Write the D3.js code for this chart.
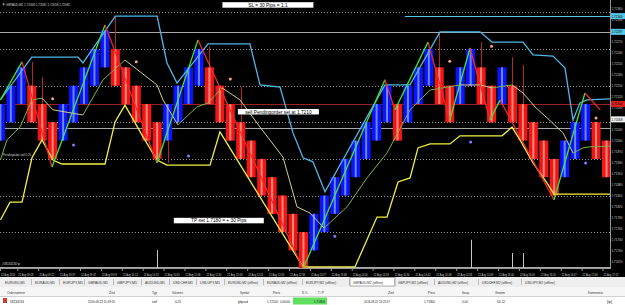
<!DOCTYPE html>
<html>
<head>
<meta charset="utf-8">
<script src="https://cdn.jsdelivr.net/npm/d3@7"></script>
<style>
  body { margin: 0; background: #000; }
  svg { display: block; font-family: "Liberation Sans", Arial, sans-serif; }
</style>
</head>
<body>
<div id="chart"></div>
<script>
// Renko bars (open / close), one box = 5 pips
const opens  = [1.7200,1.7205,1.7210,1.7215,1.7210,1.7205,1.7200,1.7205,1.7210,1.7215,
                1.7220,1.7225,1.7220,1.7215,1.7210,1.7205,1.7200,1.7205,1.7210,1.7215,
                1.7220,1.7215,1.7210,1.7205,1.7200,1.7195,1.7190,1.7185,1.7180,1.7175,
                1.7170,1.7175,1.7180,1.7185,1.7190,1.7195,1.7200,1.7205,1.7210,1.7205,
                1.7210,1.7215,1.7220,1.7215,1.7210,1.7215,1.7220,1.7215,1.7210,1.7215,
                1.7210,1.7205,1.7200,1.7195,1.7190,1.7195,1.7200,1.7205,1.7200];
const closes = [1.7210,1.7215,1.7220,1.7205,1.7200,1.7195,1.7210,1.7215,1.7220,1.7225,
                1.7230,1.7215,1.7210,1.7205,1.7200,1.7195,1.7210,1.7215,1.7220,1.7225,
                1.7210,1.7205,1.7200,1.7195,1.7190,1.7185,1.7180,1.7175,1.7170,1.7165,
                1.7180,1.7185,1.7190,1.7195,1.7200,1.7205,1.7210,1.7215,1.7200,1.7215,
                1.7220,1.7225,1.7210,1.7205,1.7220,1.7225,1.7210,1.7205,1.7220,1.7205,
                1.7200,1.7195,1.7190,1.7185,1.7200,1.7205,1.7210,1.7195,1.7190];

// wicks: bar index, high, low
const wickBar  = [3, 4, 11, 16, 20, 23, 42, 46, 49, 50];
const wickHigh = [1.72215, 1.72174, 1.72340, 1.72000, 1.72256, 1.72146, 1.72297, 1.72269, 1.72228, 1.72207];
const wickLow  = [1.72150, 1.72100, 1.72250, 1.71939, 1.72200, 1.72050, 1.72200, 1.72200, 1.72150, 1.72100];

// thin marks rising from the bottom edge
const spikeBar = [15, 45, 49, 50];
const spikeTop = [1.71701, 1.71729, 1.71693, 1.71693];

// upper band (cyan): [bar, price]
const upperBand = [[0,1.72111],[3,1.72228],[7.43,1.72228],[7.9,1.72212],[11,1.72340],[15,1.72340],
  [15.94,1.72212],[16.9,1.72157],[19.87,1.72264],[23.88,1.72264],[24.84,1.72152],[26.76,1.72146],
  [28,1.72021],[28.96,1.71953],[29.91,1.71942],[31.06,1.71860],[36.8,1.72152],[39.2,1.72152],
  [42.07,1.72297],[45.9,1.72297],[47.04,1.72269],[50.01,1.72269],[50.97,1.72234],[52.88,1.72231],
  [54.03,1.72198],[54.8,1.72056],[55.46,1.72103],[56.13,1.72111],[58.5,1.72114]];

// zigzag swings: [bar, price]
const zigzag = [[0,1.72111],[2.07,1.72215],[4.94,1.71928],[10.01,1.72316],[14.98,1.71939],
  [18.91,1.72275],[28.96,1.71650],[36.8,1.72166],[37.76,1.72084],[40.92,1.72269],[43.0,1.72056],
  [44.94,1.72253],[46.85,1.72056],[47.81,1.72111],[52.98,1.71838],[55.94,1.72130],[57.4,1.72084]];

// lower band (yellow): [bar, price]
const lowerBand = [[0,1.71783],[0.92,1.71832],[2.07,1.71832],[3.02,1.71953],[3.98,1.72002],
  [5.03,1.71947],[5.89,1.71936],[10.01,1.71936],[10.97,1.72051],[11.92,1.72097],[13.65,1.72010],
  [14.98,1.71947],[15.94,1.71933],[20.06,1.71933],[21.01,1.72024],[28.96,1.71655],[33.93,1.71655],
  [36.04,1.71791],[36.99,1.71791],[38.05,1.71887],[39.2,1.71898],[39.96,1.71980],[41.11,1.71991],
  [43.02,1.71991],[43.98,1.72013],[48.0,1.72013],[48.96,1.72037],[49.72,1.72002],[50.97,1.71939],
  [52.31,1.71884],[52.98,1.71854],[58.5,1.71854]];

// slow average (olive when rising, khaki when falling): [bar, price]
const slowAvg = [[0,1.71947],[0.63,1.72002],[1.88,1.72037],[3.02,1.72111],[3.98,1.72116],
  [5.03,1.72084],[7.9,1.72070],[9.82,1.72166],[11.92,1.72220],[14.98,1.72152],[15.56,1.72111],
  [16.99,1.72043],[18.81,1.72092],[19.87,1.72103],[21.21,1.72144],[22.93,1.72111],[24.84,1.72037],
  [27.04,1.71955],[28.38,1.71819],[29.63,1.71802],[30.97,1.71761],[33.17,1.71819],[35.08,1.71898],
  [36.99,1.71966],[39.2,1.72084],[41.11,1.72138],[42.35,1.72144],[43.98,1.72152],[45.9,1.72152],
  [47.04,1.72144],[48.96,1.72152],[50.01,1.72130],[51.16,1.72092],[52.31,1.72062],[53.84,1.72021],
  [54.8,1.71966],[55.75,1.71980],[56.42,1.71983],[58.5,1.71985]];

// signal dots
const dotUpBar = [5, 13, 22, 43, 47, 57];
const dotUpPrice = [1.72114, 1.72215, 1.72168, 1.72217, 1.72258, 1.72062];
const dotDnBar = [7, 18, 32, 45, 56];
const dotDnPrice = [1.71988, 1.71958, 1.71739, 1.71996, 1.71939];

// horizontal levels
const gridLevels = [1.7235, 1.7225, 1.7215, 1.7205, 1.7195, 1.7185, 1.7175];
const grayLevels = [1.72297, 1.72034, 1.71655];
const cyanLevel = 1.72340, cyanFromBar = 38.7;
const orderLevel = 1.7210;
const tpLevel = 1.7180;

// axis labels
const priceTicks = [1.72360,1.72330,1.72300,1.72270,1.72240,1.72210,1.72180,1.72150,1.72120,1.72090,
  1.72060,1.72030,1.72000,1.71970,1.71940,1.71910,1.71880,1.71850,1.71820,1.71790,1.71760,1.71730,
  1.71700,1.71670];
const markedPrices = [1.72340, 1.72297, 1.72100, 1.72058];
const timeLabels = ["22 Aug 2016","22 Aug 09:08","22 Aug 09:22","22 Aug 09:37","22 Aug 09:47",
  "22 Aug 09:59","22 Aug 10:12","22 Aug 10:23","22 Aug 10:45","22 Aug 11:08","22 Aug 11:30",
  "22 Aug 12:08","22 Aug 12:24","22 Aug 12:43","22 Aug 12:58","22 Aug 13:27","22 Aug 13:48",
  "22 Aug 14:00","22 Aug 14:18","22 Aug 14:30","22 Aug 14:42","22 Aug 14:48","22 Aug 14:58",
  "22 Aug 15:08","22 Aug 16:00","22 Aug 16:09","22 Aug 16:20","22 Aug 16:47","22 Aug 17:06",
  "22 Aug 17:22"];

const tabs = ["EURUSD,M1","EURAUD,M1","EURJPY,M1","GBPAUD,M1","GBPJPY,M1","AUDUSD,M1","USDCHF,M1",
  "USDJPY,M1","EURUSD,M2 (offline)","EURAUD,M2 (offline)","EURJPY,M2 (offline)","GBPAUD,M2 (offline)",
  "GBPJPY,M2 (offline)","AUDUSD,M2 (offline)","USDCHF,M2 (offline)","USDJPY,M2 (offline)"];
const tabX = [5,35,63,88,117,145,173,200,228,267,306,353,398,438,482,525];

const W = 625, H = 305;
const plotRight = 610, plotBottom = 268;

const svg = d3.select("#chart").append("svg")
  .attr("width", W).attr("height", H);

svg.append("rect").attr("width", W).attr("height", 277).attr("fill", "#000");

svg.append("clipPath").attr("id", "plot")
  .append("rect").attr("width", plotRight).attr("height", plotBottom);

const x = d3.scaleLinear().domain([0, 58]).range([0.4, 606.5]);
const y = d3.scaleLinear().domain([1.71652, 1.72384]).range([plotBottom, 0]);
const yp = d => Math.round(y(d)) + 0.5;

const g = svg.append("g").attr("clip-path", "url(#plot)");

// grid
g.selectAll(".grid").data(gridLevels).join("line")
  .attr("x1", 0).attr("x2", plotRight).attr("y1", yp).attr("y2", yp)
  .attr("stroke", "#9a9a9a").attr("stroke-dasharray", "1,2");

g.selectAll(".gray").data(grayLevels).join("line")
  .attr("x1", 0).attr("x2", plotRight).attr("y1", yp).attr("y2", yp)
  .attr("stroke", "#a8a8a8");

g.append("line")
  .attr("x1", x(cyanFromBar)).attr("x2", plotRight)
  .attr("y1", yp(cyanLevel)).attr("y2", yp(cyanLevel))
  .attr("stroke", "#55c8e8");

g.append("line")
  .attr("x1", 0).attr("x2", plotRight)
  .attr("y1", yp(orderLevel)).attr("y2", yp(orderLevel))
  .attr("stroke", "#a02020");

// bars
const bars = opens.map((o, i) => ({ i, o, c: closes[i], up: closes[i] > o }));
const bw = 9;
g.selectAll(".body").data(bars).join("rect")
  .attr("x", d => x(d.i) - bw / 2)
  .attr("y", d => y(Math.max(d.o, d.c)))
  .attr("width", bw)
  .attr("height", d => y(Math.min(d.o, d.c)) - y(Math.max(d.o, d.c)))
  .attr("fill", d => d.up ? "#0a14ff" : "#f51414");
g.selectAll(".stripe").data(bars).join("rect")
  .attr("x", d => x(d.i) - 1)
  .attr("y", d => y(Math.max(d.o, d.c)))
  .attr("width", 2)
  .attr("height", d => y(Math.min(d.o, d.c)) - y(Math.max(d.o, d.c)))
  .attr("fill", d => d.up ? "#6a88ff" : "#ff8a7a");

// wicks
g.selectAll(".wick").data(wickBar).join("line")
  .attr("x1", d => Math.round(x(d)) + 0.5).attr("x2", d => Math.round(x(d)) + 0.5)
  .attr("y1", (d, k) => y(wickHigh[k])).attr("y2", (d, k) => y(wickLow[k]))
  .attr("stroke", "#b02828");

g.selectAll(".spike").data(spikeBar).join("line")
  .attr("x1", d => Math.round(x(d)) + 0.5).attr("x2", d => Math.round(x(d)) + 0.5)
  .attr("y1", (d, k) => y(spikeTop[k])).attr("y2", plotBottom)
  .attr("stroke", "#c8c8c8");

// lines
const line = d3.line().x(d => x(d[0])).y(d => y(d[1]));

g.append("path").datum(upperBand).attr("d", line)
  .attr("fill", "none").attr("stroke", "#4fb8e8").attr("stroke-width", 1.3);

g.append("path").datum(lowerBand).attr("d", line)
  .attr("fill", "none").attr("stroke", "#f4f040").attr("stroke-width", 1.3);

const avgSegs = d3.pairs(slowAvg);
g.selectAll(".avg").data(avgSegs).join("path")
  .attr("d", d => line(d))
  .attr("fill", "none")
  .attr("stroke", d => d[1][1] > d[0][1] ? "#7cb342" : "#d4cf8c")
  .attr("stroke-width", 1);

const zzSegs = d3.pairs(zigzag);
g.selectAll(".zz").data(zzSegs).join("path")
  .attr("d", d => line(d))
  .attr("fill", "none")
  .attr("stroke", d => d[1][1] > d[0][1] ? "#3ee83e" : "#ee2a2a")
  .attr("stroke-width", 1.3);

// dots
g.selectAll(".dotUp").data(dotUpBar).join("circle")
  .attr("cx", d => x(d)).attr("cy", (d, k) => y(dotUpPrice[k]))
  .attr("r", 1.5).attr("fill", "#f4a582");
g.selectAll(".dotDn").data(dotDnBar).join("circle")
  .attr("cx", d => x(d)).attr("cy", (d, k) => y(dotDnPrice[k]))
  .attr("r", 1.5).attr("fill", "#7d7dff");

// chart notes
function note(text, cx, cy, w) {
  g.append("rect").attr("x", cx - w / 2).attr("y", cy).attr("width", w).attr("height", 5.5)
    .attr("fill", "#fff");
  g.append("text").attr("x", cx).attr("y", cy + 4.6).attr("text-anchor", "middle")
    .attr("font-size", 4.8).attr("fill", "#000").text(text);
}
note("SL = 30 Pips = 1:1", x(25.6), 2.2, 91);
note("sell Pendingorder set at 1.7210", x(26.6), y(orderLevel) + 5, 81);
note("TP set 1.7180 = + 30 Pips", x(20.9), y(tpLevel) + 4, 90);

svg.append("text").attr("x", 2).attr("y", 5.5).attr("font-size", 4.3).attr("fill", "#d8d8d8")
  .attr("textLength", 68).attr("lengthAdjust", "spacingAndGlyphs")
  .text("▼ GBPAUD,M2  1.72058 1.72081 1.72058 1.72081");
g.append("text").attr("x", 3).attr("y", y(1.7195) - 2.5).attr("font-size", 4).attr("fill", "#d8d8d8")
  .attr("textLength", 28).attr("lengthAdjust", "spacingAndGlyphs")
  .text("Pendingorder sell 0.25");
g.append("text").attr("x", 2).attr("y", y(1.71655) - 2).attr("font-size", 4).attr("fill", "#d8d8d8")
  .attr("textLength", 18).attr("lengthAdjust", "spacingAndGlyphs")
  .text("#58134234 tp");

// price axis
svg.append("line").attr("x1", plotRight + 0.5).attr("x2", plotRight + 0.5)
  .attr("y1", 0).attr("y2", plotBottom + 1).attr("stroke", "#9a9a9a");
svg.append("g").selectAll("text").data(priceTicks).join("text")
  .attr("x", 611.5).attr("y", d => y(d) + 1.5)
  .attr("font-size", 3.7).attr("fill", "#c8c8c8")
  .attr("textLength", 11).attr("lengthAdjust", "spacingAndGlyphs")
  .text(d => d.toFixed(5));
const markColors = ["#55c8e8", "#55c8e8", "#e02020", "#f0f0f0"];
const marks = svg.append("g").selectAll("g").data(markedPrices).join("g");
marks.append("rect").attr("x", 611).attr("y", d => y(d) - 3).attr("width", 14).attr("height", 6)
  .attr("fill", (d, k) => markColors[k]);
marks.append("text").attr("x", 611.5).attr("y", d => y(d) + 1.5)
  .attr("font-size", 3.7).attr("fill", "#000")
  .attr("textLength", 11).attr("lengthAdjust", "spacingAndGlyphs")
  .text(d => d.toFixed(5));

// time axis
svg.append("line").attr("x1", 0).attr("x2", plotRight).attr("y1", plotBottom + 0.5)
  .attr("y2", plotBottom + 0.5).attr("stroke", "#9a9a9a");
const tl = svg.append("g").selectAll("g").data(timeLabels).join("g")
  .attr("transform", (d, k) => `translate(${k === 0 ? 0 : x(k * 2) - 4},0)`);
tl.append("line").attr("x1", 0.5).attr("x2", 0.5).attr("y1", plotBottom).attr("y2", plotBottom + 3)
  .attr("stroke", "#9a9a9a");
tl.append("text").attr("x", 1).attr("y", 275.5)
  .attr("font-size", (d, k) => k === 0 ? 2.9 : 3.4).attr("fill", "#c8c8c8")
  .attr("textLength", (d, k) => k === 0 ? 14 : 15).attr("lengthAdjust", "spacingAndGlyphs").text(d => d);

// terminal panel
svg.append("rect").attr("y", 277).attr("width", W).attr("height", 10).attr("fill", "#eeeeee");
svg.append("rect").attr("x", 350).attr("y", 277.5).attr("width", 45).attr("height", 8.5)
  .attr("fill", "#fff").attr("stroke", "#7a7a7a").attr("stroke-width", 0.6);
svg.append("g").selectAll("text").data(tabs).join("text")
  .attr("x", (d, k) => tabX[k]).attr("y", 283.8).attr("font-size", 4).attr("fill", "#333")
  .attr("textLength", (d, k) => k < 8 ? 20 : 30).attr("lengthAdjust", "spacingAndGlyphs")
  .text(d => d);
svg.append("g").selectAll("line").data(tabX.slice(1)).join("line")
  .attr("x1", d => d - 3.5).attr("x2", d => d - 3.5).attr("y1", 279).attr("y2", 285)
  .attr("stroke", "#999").attr("stroke-width", 0.6);

svg.append("rect").attr("y", 287).attr("width", W).attr("height", 9).attr("fill", "#f6f6f6");
svg.append("line").attr("x1", 0).attr("x2", W).attr("y1", 296.5).attr("y2", 296.5)
  .attr("stroke", "#d0d0d0");
svg.append("rect").attr("y", 297).attr("width", W).attr("height", 8).attr("fill", "#fff");

const headers = [["Ordernummer",7,"start",18],["Zeit",115,"end",6],["Typ",152,"start",5],
  ["Volumen",172,"start",11],["Symbol",240,"start",9],["Preis",273,"start",7],["S / L",302,"start",6],
  ["T / P",318,"start",6],["Zeit",388,"start",6],["Preis",428,"start",7],["Swap",462,"start",7],
  ["Gewinn",495,"start",10],["Kommentar",588,"start",15]];
svg.append("g").selectAll("text").data(headers).join("text")
  .attr("x", d => d[1]).attr("y", 293.5).attr("text-anchor", d => d[2])
  .attr("font-size", 4).attr("fill", "#333")
  .attr("textLength", d => d[3]).attr("lengthAdjust", "spacingAndGlyphs").text(d => d[0]);

svg.append("rect").attr("x", 293).attr("y", 297.5).attr("width", 34).attr("height", 7)
  .attr("fill", "#5ee05e");
svg.append("rect").attr("x", 3).attr("y", 298).attr("width", 4).attr("height", 5)
  .attr("fill", "#d04030");
const row = [["58134234",10,"start",14],["2016.08.22 11:49:55",115,"end",27],["sell",152,"start",5],
  ["0.25",175,"start",6],["gbpaud",238,"start",10],["1.72100",267,"start",11],["0.00000",290,"end",10],
  ["1.71800",325,"end",11],["2016.08.22 13:23:37",390,"end",26],["1.71800",435,"end",11],
  ["0.00",468,"end",6],["50.12",505,"end",8],["[tp]",607,"start",5]];
svg.append("g").selectAll("text").data(row).join("text")
  .attr("x", d => d[1]).attr("y", 302.8).attr("text-anchor", d => d[2])
  .attr("font-size", 4).attr("fill", "#222")
  .attr("textLength", d => d[3]).attr("lengthAdjust", "spacingAndGlyphs").text(d => d[0]);
</script>
</body>
</html>
